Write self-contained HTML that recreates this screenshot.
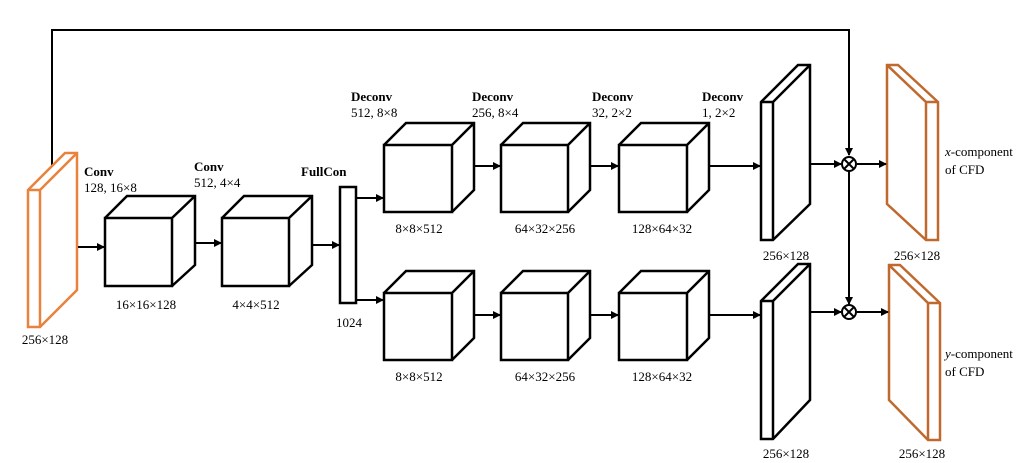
<!DOCTYPE html>
<html><head><style>html,body{margin:0;padding:0;background:#fff}svg{display:block}</style></head><body>
<svg width="1031" height="463" viewBox="0 0 1031 463" xmlns="http://www.w3.org/2000/svg" font-family="Liberation Serif, serif" font-size="13">
<defs><marker id="a" markerWidth="8" markerHeight="8" refX="7" refY="4" orient="auto" markerUnits="userSpaceOnUse"><path d="M0,0 L8,4 L0,8 z" fill="#000"/></marker></defs>
<g fill="none" stroke="#000" stroke-width="2.5" stroke-linejoin="miter">
<!-- skip line -->
<path d="M52,165 V30 H849 V155" stroke-width="2" marker-end="url(#a)"/>
<!-- input orange -->
<g stroke="#e8823c"><path d="M28,190 L65,153 L77,153 L77,290 L40,327 L28,327 Z"/><path d="M28,190 H40 L77,153 M40,190 V327"/></g>
<!-- cubes -->
<path d="M105,218 H172 V286 H105 Z M105,218 L127,196 H195 V265 L172,286 M172,218 L195,196"/>
<path d="M222,218 H289 V286 H222 Z M222,218 L244,196 H312 V265 L289,286 M289,218 L312,196"/>
<rect x="340" y="187" width="16" height="116"/>
<path d="M384,145 H452 V212 H384 Z M384,145 L406,123 H474 V190 L452,212 M452,145 L474,123"/>
<path d="M501,145 H568 V212 H501 Z M501,145 L523,123 H590 V190 L568,212 M568,145 L590,123"/>
<path d="M619,145 H687 V212 H619 Z M619,145 L641,123 H709 V190 L687,212 M687,145 L709,123"/>
<path d="M384,293 H452 V360 H384 Z M384,293 L406,271 H474 V338 L452,360 M452,293 L474,271"/>
<path d="M501,293 H568 V360 H501 Z M501,293 L523,271 H590 V338 L568,360 M568,293 L590,271"/>
<path d="M619,293 H687 V360 H619 Z M619,293 L641,271 H709 V338 L687,360 M687,293 L709,271"/>
<!-- black slabs -->
<path d="M761,102 L798,65 L810,65 L810,204 L773,240 L761,240 Z M761,102 H773 L810,65 M773,102 V240"/>
<path d="M761,301 L798,264 L810,264 L810,400 L773,439 L761,439 Z M761,301 H773 L810,264 M773,301 V439"/>
<!-- orange outputs -->
<g stroke="#c0692e"><path d="M887,65 L898,65 L938,102 L938,240 L926,240 L887,204 Z M887,65 L926,102 H938 M926,102 V240"/>
<path d="M889,265 L900,265 L940,303 L940,440 L928,440 L889,400 Z M889,265 L928,303 H940 M928,303 V440"/></g>
<!-- circles -->
<circle cx="849" cy="164" r="7" stroke-width="2"/><path d="M844,159 L854,169 M854,159 L844,169" stroke-width="2"/>
<circle cx="849" cy="312" r="7" stroke-width="2"/><path d="M844,307 L854,317 M854,307 L844,317" stroke-width="2"/>
<g stroke-width="2" marker-end="url(#a)">
<path d="M78,247 H104"/><path d="M196,243 H221"/><path d="M313,245 H339"/>
<path d="M357,198 H383"/><path d="M357,300 H383"/>
<path d="M475,166 H500"/><path d="M591,166 H618"/><path d="M710,166 H760"/>
<path d="M475,315 H500"/><path d="M591,315 H618"/><path d="M710,315 H760"/>
<path d="M811,164 H841"/><path d="M857,164 H886"/>
<path d="M849,171 V304"/>
<path d="M811,312 H841"/><path d="M857,312 H888"/>
</g>
</g>
<g fill="#000">
<text x="84" y="176" font-weight="bold">Conv</text><text x="84" y="192">128, 16×8</text>
<text x="194" y="171" font-weight="bold">Conv</text><text x="194" y="187">512, 4×4</text>
<text x="301" y="176" font-weight="bold">FullCon</text>
<text x="351" y="101" font-weight="bold">Deconv</text><text x="351" y="117">512, 8×8</text>
<text x="472" y="101" font-weight="bold">Deconv</text><text x="472" y="117">256, 8×4</text>
<text x="592" y="101" font-weight="bold">Deconv</text><text x="592" y="117">32, 2×2</text>
<text x="702" y="101" font-weight="bold">Deconv</text><text x="702" y="117">1, 2×2</text>
<g text-anchor="middle">
<text x="146" y="309">16×16×128</text><text x="256" y="309">4×4×512</text><text x="349" y="327">1024</text>
<text x="419" y="233">8×8×512</text><text x="545" y="233">64×32×256</text><text x="662" y="233">128×64×32</text>
<text x="419" y="381">8×8×512</text><text x="545" y="381">64×32×256</text><text x="662" y="381">128×64×32</text>
<text x="45" y="344">256×128</text><text x="786" y="260">256×128</text><text x="917" y="260">256×128</text>
<text x="786" y="458">256×128</text><text x="922" y="458">256×128</text>
</g>
<text x="945" y="156"><tspan font-style="italic">x</tspan>-component</text><text x="945" y="174">of CFD</text>
<text x="945" y="358"><tspan font-style="italic">y</tspan>-component</text><text x="945" y="376">of CFD</text>
</g>
</svg>
</body></html>
